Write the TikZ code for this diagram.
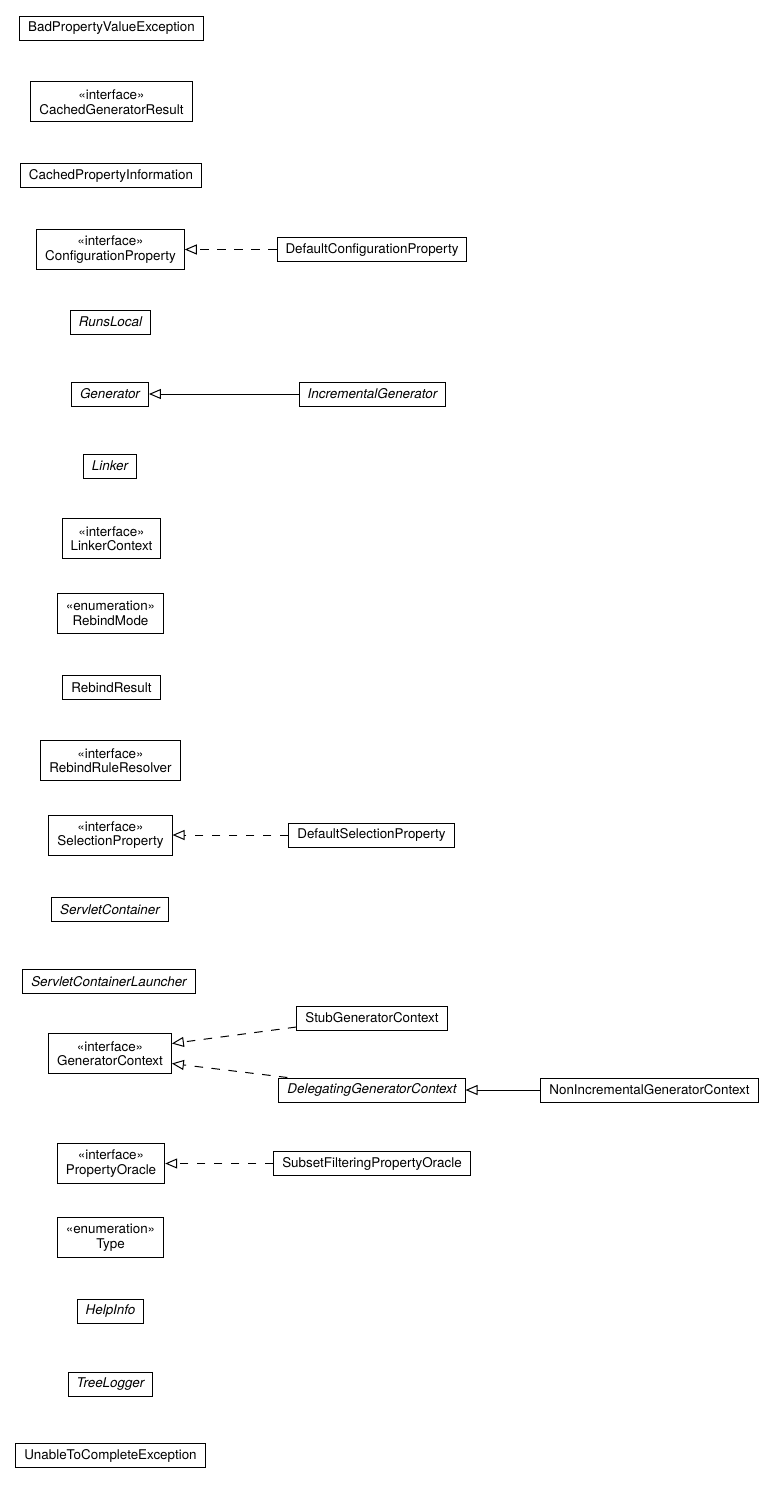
\documentclass[tikz,border=0pt]{standalone}
\usepackage{fontspec}
\setmainfont{TeX Gyre Heros}
\usetikzlibrary{arrows.meta,positioning}
\tikzset{
  cls/.style={draw=black, line width=1pt, fill=white, align=center, inner xsep=8.5pt, inner ysep=2pt, minimum height=24pt, font=\fontsize{13.4}{14.5}\selectfont},
  acls/.style={cls, font=\fontsize{13.4}{14.5}\selectfont\itshape},
  icls/.style={cls, minimum height=40pt},
  realize/.style={-{Triangle[open,length=12pt,width=10pt]}, line width=1pt, dash pattern=on 8.5pt off 8.5pt},
  extend/.style={-{Triangle[open,length=12pt,width=10pt]}, line width=1pt}
}

\begin{document}
\begin{tikzpicture}[x=1pt,y=-1pt]
\useasboundingbox (0,0) rectangle (773,1485);
\node[cls] (bpve) at (111.5,28.5) {BadPropertyValueException};
\node[icls] (cgr) at (111.5,102) {«interface»\\CachedGeneratorResult};
\node[cls] (cpi) at (111,175.5) {CachedPropertyInformation};
\node[icls] (cp) at (110.5,249.5) {«interface»\\ConfigurationProperty};
\node[cls] (dcp) at (372,249.5) {DefaultConfigurationProperty};
\draw[realize] (dcp) -- (cp);
\node[acls] (rl) at (110.5,322) {RunsLocal};
\node[acls] (gen) at (110,394) {Generator};
\node[acls] (igen) at (372.5,394) {IncrementalGenerator};
\draw[extend] (igen) -- (gen);
\node[acls] (lnk) at (110,466) {Linker};
\node[icls] (lctx) at (111.5,538.5) {«interface»\\LinkerContext};
\node[icls] (rmode) at (110.5,613.5) {«enumeration»\\RebindMode};
\node[cls] (rres) at (111.5,687.5) {RebindResult};
\node[icls] (rrr) at (110.5,760.5) {«interface»\\RebindRuleResolver};
\node[icls] (sp) at (110.5,835) {«interface»\\SelectionProperty};
\node[cls] (dsp) at (371.5,835) {DefaultSelectionProperty};
\draw[realize] (dsp) -- (sp);
\node[acls] (sc) at (110,909.5) {ServletContainer};
\node[acls] (scl) at (109,981.5) {ServletContainerLauncher};
\node[icls] (gc) at (110,1053.5) {«interface»\\GeneratorContext};
\node[cls] (sgc) at (372,1018) {StubGeneratorContext};
\node[acls] (dgc) at (372,1090) {DelegatingGeneratorContext};
\node[cls] (nigc) at (649.5,1090) {NonIncrementalGeneratorContext};
\draw[realize] ([yshift=-9pt]sgc.west) -- ([yshift=10pt]gc.east);
\draw[realize] ([xshift=9pt]dgc.north west) -- ([yshift=-10pt]gc.east);
\draw[extend] (nigc) -- (dgc);
\node[icls] (po) at (111,1163.5) {«interface»\\PropertyOracle};
\node[cls] (sfpo) at (372,1163.5) {SubsetFilteringPropertyOracle};
\draw[realize] (sfpo) -- (po);
\node[icls] (type) at (110.5,1237.5) {«enumeration»\\Type};
\node[acls] (hi) at (110.5,1311) {HelpInfo};
\node[acls] (tl) at (110.5,1384) {TreeLogger};
\node[cls] (utce) at (110.5,1455.5) {UnableToCompleteException};
\end{tikzpicture}
\end{document}
